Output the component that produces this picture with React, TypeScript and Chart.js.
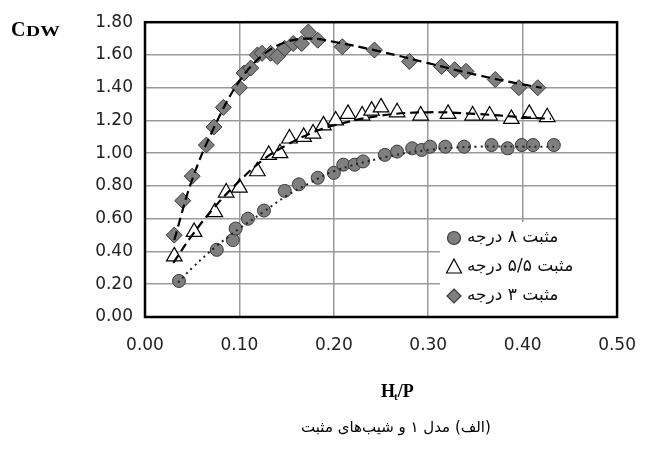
import React, { useEffect, useRef } from "react";
import { Chart, registerables } from "chart.js";

Chart.register(...registerables);

// ---- data ----
const s8X = [0.036, 0.076, 0.093, 0.096, 0.109, 0.126, 0.148, 0.163, 0.183, 0.2, 0.21, 0.222, 0.231, 0.254, 0.267, 0.283, 0.293, 0.302, 0.318, 0.338, 0.367, 0.384, 0.399, 0.411, 0.433];
const s8Y = [0.22, 0.41, 0.47, 0.54, 0.6, 0.65, 0.77, 0.81, 0.85, 0.88, 0.93, 0.93, 0.95, 0.99, 1.01, 1.03, 1.02, 1.04, 1.04, 1.04, 1.05, 1.03, 1.05, 1.05, 1.05];

const s55X = [0.031, 0.052, 0.074, 0.086, 0.1, 0.119, 0.131, 0.143, 0.153, 0.168, 0.178, 0.189, 0.202, 0.215, 0.23, 0.24, 0.25, 0.267, 0.292, 0.321, 0.347, 0.365, 0.388, 0.407, 0.426];
const s55Y = [0.37, 0.52, 0.64, 0.76, 0.79, 0.89, 0.99, 1.0, 1.09, 1.1, 1.12, 1.17, 1.2, 1.24, 1.23, 1.26, 1.28, 1.25, 1.23, 1.24, 1.23, 1.23, 1.21, 1.24, 1.22];

const s3X = [0.031, 0.04, 0.05, 0.065, 0.073, 0.083, 0.1, 0.105, 0.112, 0.119, 0.124, 0.133, 0.14, 0.148, 0.157, 0.166, 0.173, 0.183, 0.209, 0.243, 0.28, 0.314, 0.328, 0.34, 0.371, 0.396, 0.416];
const s3Y = [0.5, 0.71, 0.86, 1.05, 1.16, 1.28, 1.4, 1.49, 1.52, 1.6, 1.61, 1.61, 1.59, 1.64, 1.67, 1.67, 1.74, 1.69, 1.65, 1.63, 1.56, 1.53, 1.51, 1.5, 1.45, 1.4, 1.4];

// trend lines
const t8X = [0.035, 0.05, 0.075, 0.1, 0.125, 0.15, 0.175, 0.2, 0.25, 0.3, 0.35, 0.4, 0.433];
const t8Y = [0.21, 0.3, 0.43, 0.54, 0.64, 0.74, 0.82, 0.89, 0.97, 1.02, 1.04, 1.04, 1.04];
const t55X = [0.03, 0.05, 0.075, 0.1, 0.125, 0.15, 0.175, 0.2, 0.25, 0.3, 0.35, 0.4, 0.43];
const t55Y = [0.33, 0.5, 0.68, 0.83, 0.96, 1.05, 1.12, 1.17, 1.23, 1.25, 1.24, 1.22, 1.21];
const t3X = [0.031, 0.05, 0.075, 0.1, 0.125, 0.15, 0.175, 0.2, 0.25, 0.3, 0.35, 0.4, 0.42];
const t3Y = [0.47, 0.84, 1.18, 1.44, 1.6, 1.68, 1.7, 1.68, 1.62, 1.55, 1.48, 1.42, 1.4];

const legendLabels = ["مثبت ۸ درجه", "مثبت ۵/۵ درجه", "مثبت ۳ درجه"];
const xTicks = [0, 0.1, 0.2, 0.3, 0.4, 0.5];
const yTicks = [0, 0.2, 0.4, 0.6, 0.8, 1.0, 1.2, 1.4, 1.6, 1.8];
const caption = "(الف) مدل ۱ و شیب‌های مثبت";

const zip = (xs: number[], ys: number[]) => xs.map((x, i) => ({ x, y: ys[i] }));

const GRAY = "#7f7f7f";
const DARK = "#3a3a3a";

function marker(ctx: CanvasRenderingContext2D, kind: number, x: number, y: number) {
  ctx.beginPath();
  if (kind === 0) {
    ctx.arc(x, y, 6.5, 0, Math.PI * 2);
    ctx.fillStyle = GRAY; ctx.strokeStyle = DARK;
  } else if (kind === 1) {
    ctx.moveTo(x, y - 8); ctx.lineTo(x + 7.5, y + 6); ctx.lineTo(x - 7.5, y + 6); ctx.closePath();
    ctx.fillStyle = "#fff"; ctx.strokeStyle = "#000";
  } else {
    ctx.moveTo(x, y - 7); ctx.lineTo(x + 7, y); ctx.lineTo(x, y + 7); ctx.lineTo(x - 7, y); ctx.closePath();
    ctx.fillStyle = GRAY; ctx.strokeStyle = DARK;
  }
  ctx.lineWidth = 1.2;
  ctx.fill();
  ctx.stroke();
}

const overlay = {
  id: "overlay",
  afterDatasetsDraw(chart: any) {
    const { ctx, chartArea } = chart;
    const { left, right, top, bottom } = chartArea;
    ctx.save();
    // legend box
    const bx = 440, by = 222;
    ctx.fillStyle = "#ffffff";
    ctx.fillRect(bx, by, right - bx, bottom - by);
    const rows = [238, 267, 296];
    ctx.font = "17px 'DejaVu Sans'";
    ctx.textBaseline = "middle";
    rows.forEach((ry, i) => {
      marker(ctx, i, 454, ry);
      ctx.fillStyle = "#111";
      ctx.textAlign = "left";
      ctx.direction = "rtl";
      ctx.fillText(legendLabels[i], 467, ry);
      ctx.direction = "ltr";
    });
    // plot border
    ctx.strokeStyle = "#000";
    ctx.lineWidth = 2.5;
    ctx.strokeRect(left, top, right - left, bottom - top);
    ctx.restore();
  },
  afterDraw(chart: any) {
    const { ctx } = chart;
    ctx.save();
    ctx.fillStyle = "#000";
    ctx.textBaseline = "alphabetic";
    ctx.textAlign = "left";
    // C_DW
    ctx.font = "bold 20px 'Liberation Serif'";
    ctx.fillText("C", 11, 36);
    ctx.save();
    ctx.translate(26, 36);
    ctx.scale(1.4, 1);
    ctx.font = "bold 14px 'Liberation Serif'";
    ctx.fillText("DW", 0, 0);
    ctx.restore();
    // H_t/P
    ctx.font = "bold 18px 'Liberation Serif'";
    const hx = 381, hy = 397;
    ctx.fillText("H", hx, hy);
    const hw = ctx.measureText("H").width;
    ctx.font = "bold 11px 'Liberation Serif'";
    ctx.fillText("t", hx + hw - 1, hy + 3);
    const tw = ctx.measureText("t").width;
    ctx.font = "bold 18px 'Liberation Serif'";
    ctx.fillText("/P", hx + hw + tw - 1, hy);
    // caption
    ctx.font = "15px 'DejaVu Sans'";
    ctx.textAlign = "center";
    ctx.direction = "rtl";
    ctx.fillText(caption, 396, 432);
    ctx.restore();
  },
};

export default function App() {
  const ref = useRef<HTMLCanvasElement>(null);
  useEffect(() => {
    const prevMargin = document.body.style.margin;
    document.body.style.margin = "0";
    const chart = new Chart(ref.current!, {
      type: "scatter",
      data: {
        datasets: [
          {
            label: "t3", data: zip(t3X, t3Y), showLine: true, pointRadius: 0, borderColor: "#000",
            borderWidth: 2.2, borderDash: [9, 5], tension: 0.4, order: 0,
          },
          {
            label: "t55", data: zip(t55X, t55Y), showLine: true, pointRadius: 0, borderColor: "#000",
            borderWidth: 2.2, borderDash: [9, 5], tension: 0.4, order: 0,
          },
          {
            label: "t8", data: zip(t8X, t8Y), showLine: true, pointRadius: 0, borderColor: "#222",
            borderWidth: 2, borderDash: [2, 4], tension: 0.4, order: 0,
          },
          {
            label: legendLabels[0], data: zip(s8X, s8Y), pointStyle: "circle", pointRadius: 6.5,
            backgroundColor: GRAY, borderColor: DARK, borderWidth: 1, order: 1,
          },
          {
            label: legendLabels[1], data: zip(s55X, s55Y), pointStyle: "triangle", pointRadius: 9,
            backgroundColor: "#fff", borderColor: "#000", borderWidth: 1.2, order: 1,
          },
          {
            label: legendLabels[2], data: zip(s3X, s3Y), pointStyle: "rectRot", pointRadius: 8,
            backgroundColor: GRAY, borderColor: DARK, borderWidth: 1, order: 1,
          },
        ],
      },
      options: {
        animation: false,
        responsive: false,
        layout: { padding: { left: 0, top: 17, right: 26, bottom: 0 } },
        plugins: { legend: { display: false }, tooltip: { enabled: false } },
        scales: {
          x: {
            type: "linear", min: 0, max: 0.5,
            afterBuildTicks: (s: any) => { s.ticks = xTicks.map((v) => ({ value: v })); },
            afterFit: (s: any) => { s.height = 135; },
            grid: { color: "#9a9a9a", lineWidth: 1.5, drawTicks: false },
            border: { display: false },
            ticks: { padding: 18, color: "#222", font: { family: "'DejaVu Sans'", size: 17 }, callback: (v: any) => Number(v).toFixed(2) },
          },
          y: {
            type: "linear", min: 0, max: 1.8,
            afterBuildTicks: (s: any) => { s.ticks = yTicks.map((v) => ({ value: v })); },
            afterFit: (s: any) => { s.width = 145; },
            grid: { color: "#9a9a9a", lineWidth: 1.5, drawTicks: false },
            border: { display: false },
            ticks: { padding: 12, color: "#222", font: { family: "'DejaVu Sans'", size: 17 }, callback: (v: any) => Number(v).toFixed(2) },
          },
        },
      },
      plugins: [overlay],
    } as any);
    return () => {
      chart.destroy();
      document.body.style.margin = prevMargin;
    };
  }, []);
  return (
    <div style={{ position: "absolute", left: 0, top: 0, width: 654, height: 452, background: "#fff" }}>
      <canvas ref={ref} width={654} height={452} style={{ width: 654, height: 452 }} />
    </div>
  );
}
